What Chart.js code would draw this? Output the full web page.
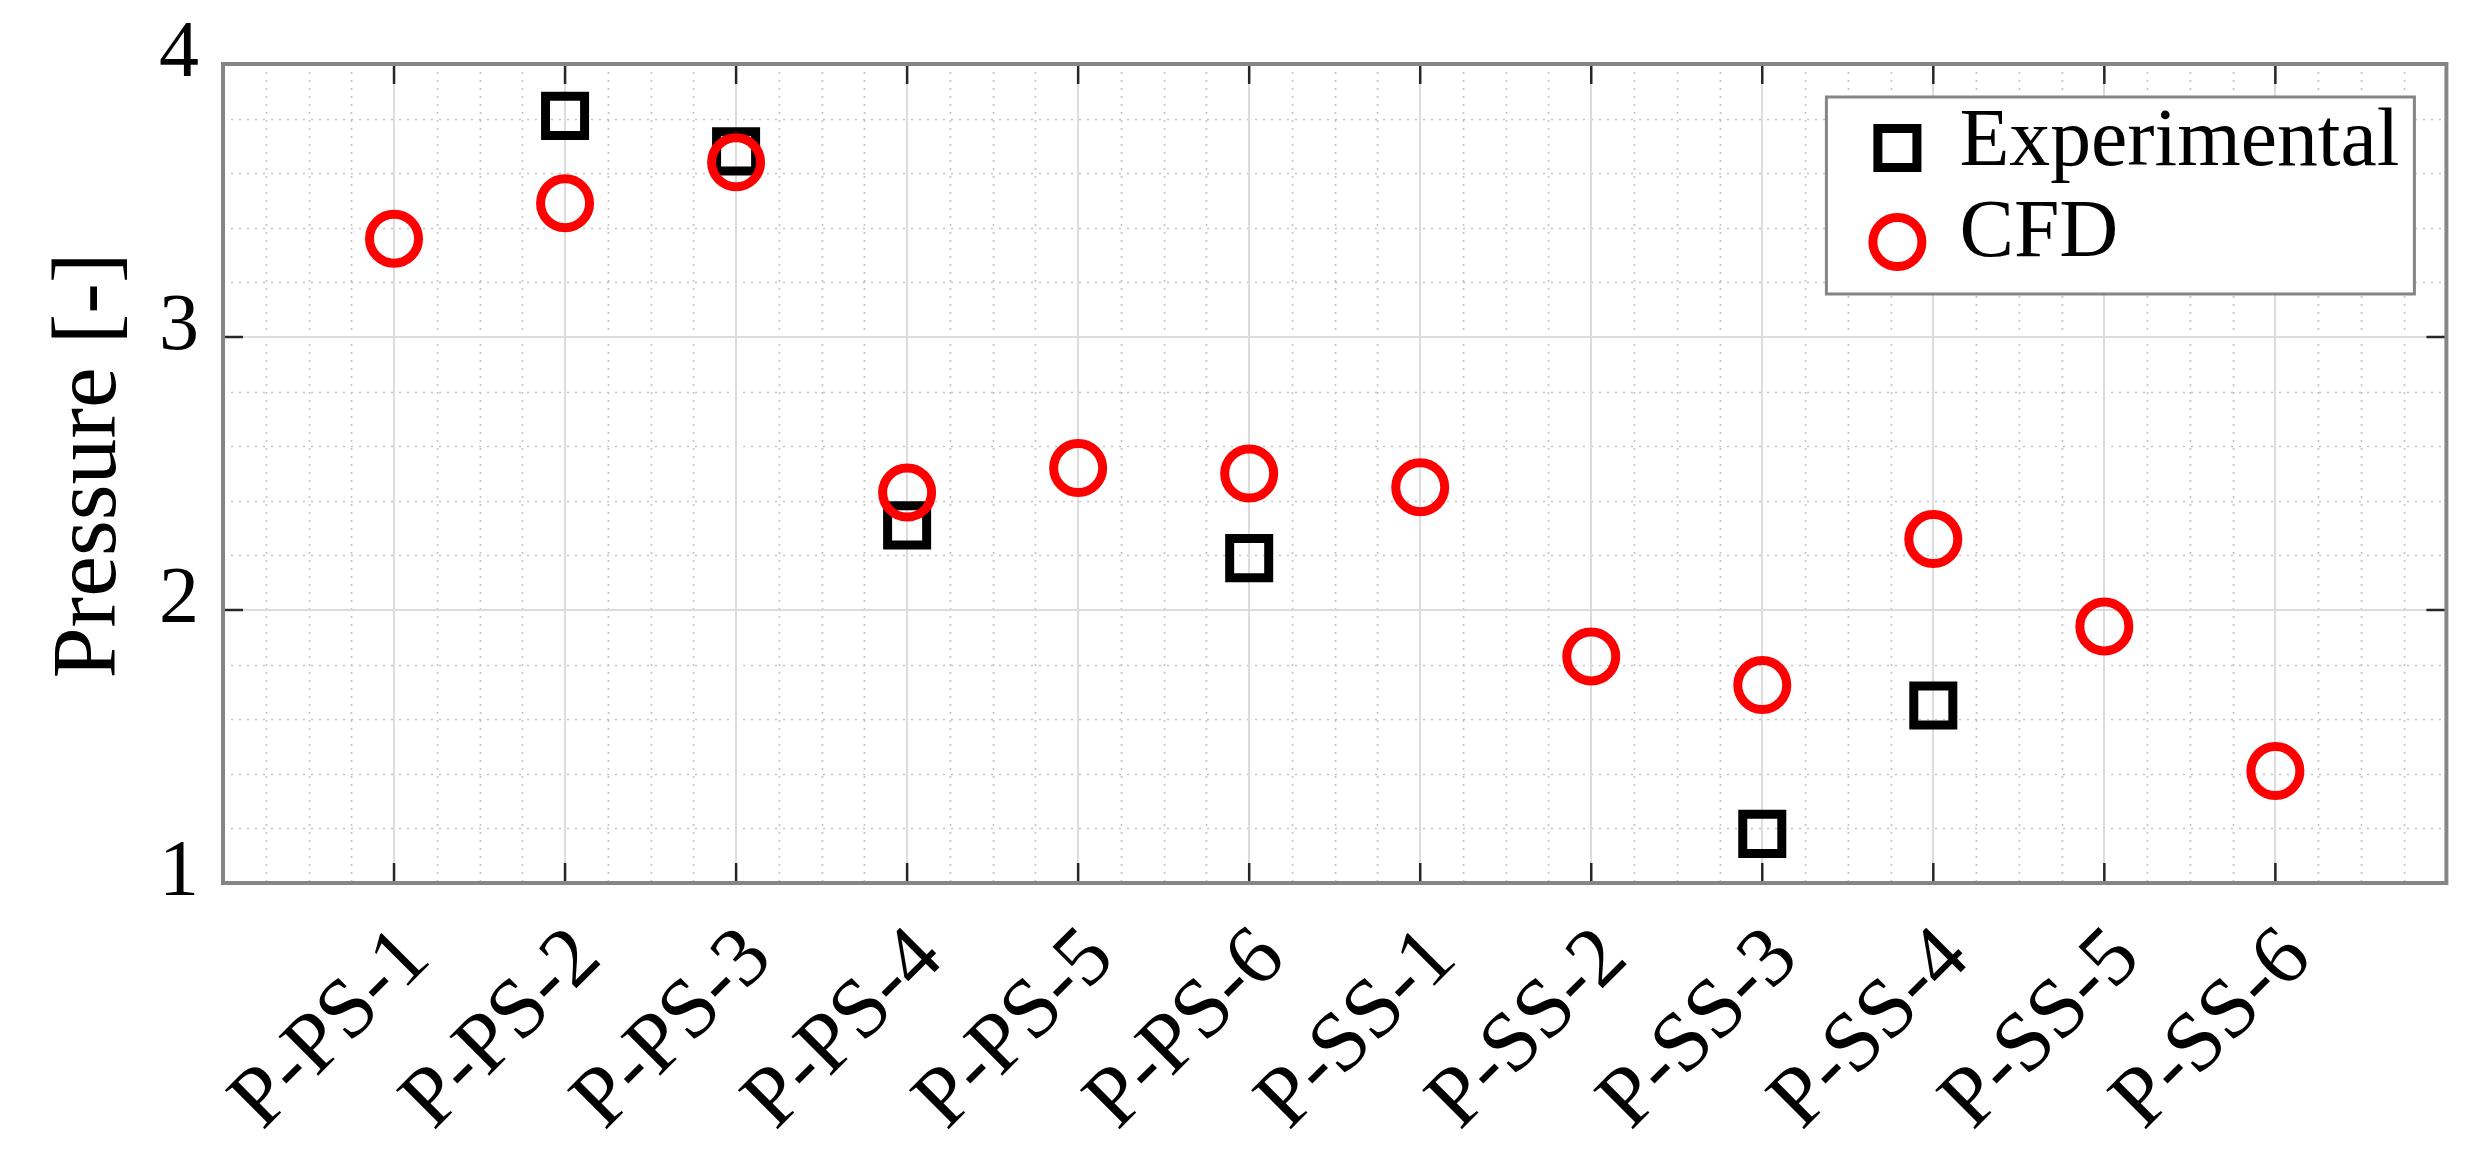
<!DOCTYPE html>
<html><head><meta charset="utf-8">
<script src="https://cdn.jsdelivr.net/npm/chart.js@4.4.1/dist/chart.umd.min.js"></script>
<style>html,body{margin:0;padding:0;background:#fff;}canvas{display:block;}</style>
</head><body>
<canvas id="c" width="2483" height="1152"></canvas>
<script>
// ---- data ----
const categories = ['P-PS-1','P-PS-2','P-PS-3','P-PS-4','P-PS-5','P-PS-6','P-SS-1','P-SS-2','P-SS-3','P-SS-4','P-SS-5','P-SS-6'];
const experimental = [null, 3.81, 3.68, 2.31, null, 2.19, null, null, 1.18, 1.65, null, null];
const cfd = [3.36, 3.49, 3.64, 2.43, 2.52, 2.50, 2.45, 1.83, 1.725, 2.26, 1.94, 1.41];
const yTickValues = [1, 2, 3, 4];
const seriesNames = ['Experimental', 'CFD'];
const yAxisTitle = 'Pressure [-]';

const FONT = "'Liberation Serif','Times New Roman',serif";
function toPoints(arr) {
  const out = [];
  arr.forEach((v, i) => { if (v !== null) out.push({ x: i + 1, y: v }); });
  return out;
}
// size fonts so that text lengths match the reference
const mctx = document.createElement('canvas').getContext('2d');
function fitSize(text, targetWidth) {
  mctx.font = '100px ' + FONT;
  const w = mctx.measureText(text).width;
  return w > 0 ? Math.round(100 * targetWidth / w * 10) / 10 : 90;
}
const titleSize = Math.min(100, Math.max(80, fitSize(yAxisTitle, 426)));
const legendSize = Math.min(88, Math.max(72, fitSize(seriesNames[0], 440)));

const matlabAxes = {
  id: 'matlabAxes',
  beforeDraw(chart) {
    const { ctx, chartArea: a, scales: { x, y } } = chart;
    ctx.save();
    ctx.fillStyle = '#fff';
    ctx.fillRect(0, 0, chart.width, chart.height);
    // minor grid (dotted)
    ctx.strokeStyle = '#c4c4c4';
    ctx.lineWidth = 1.6;
    ctx.setLineDash([2, 6]);
    for (let k = 0; k <= (x.max - x.min) * 4; k++) {
      if (k % 4 === 0) continue;
      const px = Math.round(x.getPixelForValue(x.min + k * 0.25)) + 0.5;
      ctx.beginPath(); ctx.moveTo(px, a.top); ctx.lineTo(px, a.bottom); ctx.stroke();
    }
    for (let k = 0; k <= (y.max - y.min) * 5; k++) {
      if (k % 5 === 0) continue;
      const py = Math.round(y.getPixelForValue(y.min + k * 0.2)) + 0.5;
      ctx.beginPath(); ctx.moveTo(a.left, py); ctx.lineTo(a.right, py); ctx.stroke();
    }
    ctx.restore();
  },
  beforeDatasetsDraw(chart) {
    const { ctx, chartArea: a, scales: { x, y } } = chart;
    ctx.save();
    // inward ticks
    ctx.strokeStyle = '#262626';
    ctx.lineWidth = 2.5;
    const tl = 20;
    categories.forEach((c, i) => {
      const px = x.getPixelForValue(i + 1);
      ctx.beginPath();
      ctx.moveTo(px, a.bottom); ctx.lineTo(px, a.bottom - tl);
      ctx.moveTo(px, a.top); ctx.lineTo(px, a.top + tl);
      ctx.stroke();
    });
    yTickValues.forEach(v => {
      const py = y.getPixelForValue(v);
      ctx.beginPath();
      ctx.moveTo(a.left, py); ctx.lineTo(a.left + tl, py);
      ctx.moveTo(a.right, py); ctx.lineTo(a.right - tl, py);
      ctx.stroke();
    });
    // box
    ctx.strokeStyle = '#858585';
    ctx.lineWidth = 4;
    ctx.strokeRect(a.left, a.top, a.right - a.left, a.bottom - a.top);
    // y-axis title (rotated, centred along the axis)
    ctx.fillStyle = '#000';
    ctx.font = titleSize + 'px ' + FONT;
    ctx.textAlign = 'center';
    ctx.textBaseline = 'alphabetic';
    ctx.translate(115, (a.top + a.bottom) / 2 - 8);
    ctx.rotate(-Math.PI / 2);
    ctx.fillText(yAxisTitle, 0, 0);
    ctx.restore();
  },
  afterDraw(chart) {
    const { ctx, chartArea: a } = chart;
    const w = 588, h = 197;
    const bx = a.right - 32 - w, by = a.top + 33;
    ctx.save();
    ctx.fillStyle = '#fff';
    ctx.fillRect(bx, by, w, h);
    ctx.strokeStyle = '#858585';
    ctx.lineWidth = 3;
    ctx.strokeRect(bx, by, w, h);
    const rows = [by + 51, by + 145];
    chart.data.datasets.forEach((ds, i) => {
      ctx.strokeStyle = ds.borderColor;
      ctx.fillStyle = 'rgba(0,0,0,0)';
      ctx.lineWidth = ds.pointBorderWidth;
      ctx.setLineDash([]);
      Chart.helpers.drawPoint(ctx, { pointStyle: ds.pointStyle, rotation: 0, radius: ds.pointRadius, borderWidth: ds.pointBorderWidth }, bx + 71, rows[i]);
      ctx.fillStyle = '#000';
      ctx.font = legendSize + 'px ' + FONT;
      ctx.textAlign = 'left';
      ctx.textBaseline = 'alphabetic';
      ctx.fillText(ds.label, bx + 133, rows[i] + 17 + (i === 1 ? -3 : 0));
    });
    ctx.restore();
  }
};

new Chart(document.getElementById('c'), {
  type: 'scatter',
  data: {
    datasets: [
      { label: seriesNames[0], data: toPoints(experimental), pointStyle: 'rect', pointRadius: 27.6, pointHoverRadius: 27.6, pointBorderWidth: 9, borderColor: '#000000', backgroundColor: 'rgba(0,0,0,0)', order: 2 },
      { label: seriesNames[1], data: toPoints(cfd), pointStyle: 'circle', pointRadius: 24.5, pointHoverRadius: 24.5, pointBorderWidth: 9, borderColor: '#ff0000', backgroundColor: 'rgba(0,0,0,0)', order: 1 }
    ]
  },
  options: {
    responsive: false, devicePixelRatio: 1, animation: false,
    layout: { padding: { top: 64, right: 34, left: 0, bottom: 0 } },
    plugins: { legend: { display: false }, tooltip: { enabled: false } },
    scales: {
      x: {
        type: 'linear', min: 0, max: categories.length + 1,
        afterBuildTicks(s) { s.ticks = categories.map((c, i) => ({ value: i + 1 })); },
        ticks: { autoSkip: false, minRotation: 45, maxRotation: 45, padding: 26, labelOffset: 23, color: '#000', font: { family: FONT, size: 85 }, callback: (v) => categories[v - 1] || '' },
        grid: { color: '#dcdcdc', lineWidth: 2, drawTicks: false },
        border: { display: false },
        afterFit(s) { s.height = 269; s.paddingLeft = 0; s.paddingRight = 0; }
      },
      y: {
        type: 'linear', min: yTickValues[0], max: yTickValues[yTickValues.length - 1],
        afterBuildTicks(s) { s.ticks = yTickValues.map(v => ({ value: v })); },
        ticks: { padding: 24, labelOffset: -9, color: '#000', font: { family: FONT, size: 80 }, callback: (v) => String(v) },
        grid: { color: '#dcdcdc', lineWidth: 2, drawTicks: false },
        border: { display: false },
        title: { display: false, text: yAxisTitle },
        afterFit(s) { s.width = 223; s.paddingTop = 0; s.paddingBottom = 0; }
      }
    }
  },
  plugins: [matlabAxes]
});
</script>
</body></html>
